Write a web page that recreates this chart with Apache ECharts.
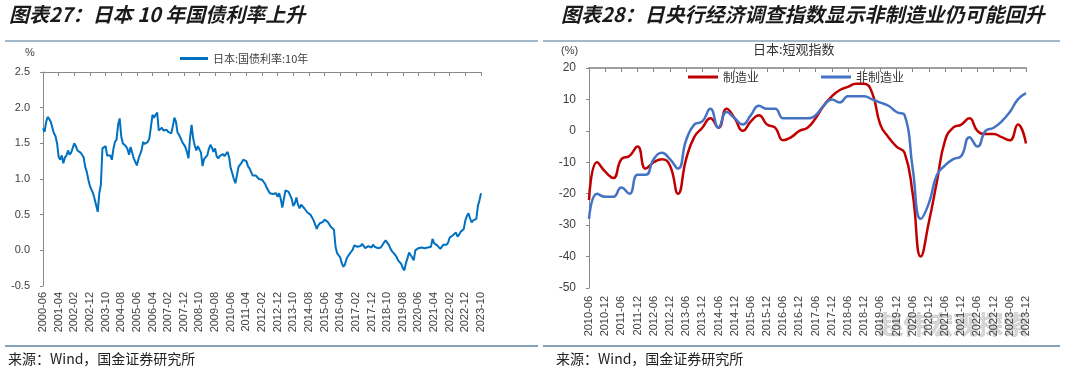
<!DOCTYPE html>
<html><head><meta charset="utf-8">
<script src="https://cdn.jsdelivr.net/npm/echarts@6/dist/echarts.min.js"></script>
<style>html,body{margin:0;padding:0;background:#fff}#c{width:1080px;height:375px}</style>
</head><body><div id="c"></div>
<script>
// ---- Left chart: Japan 10Y JGB yield, monthly 2000-06 .. 2023-10 ----
const jgb2000 = [1.71,1.66,1.80,1.87,1.84,1.80,1.72];
const jgb2001 = [1.64,1.60,1.50,1.31,1.27,1.33,1.22,1.30,1.33,1.40,1.34,1.37];
const jgb2002 = [1.38,1.50,1.46,1.40,1.38,1.37,1.34,1.30,1.17,1.10,0.99,0.90];
const jgb2003 = [0.85,0.80,0.72,0.63,0.54,0.80,0.92,1.43,1.42,1.46,1.33,1.35];
const jgb2004 = [1.33,1.27,1.42,1.52,1.55,1.76,1.85,1.60,1.50,1.48,1.46,1.42];
const jgb2005 = [1.34,1.45,1.44,1.29,1.27,1.19,1.28,1.30,1.40,1.52,1.49,1.48];
const jgb2006 = [1.52,1.57,1.73,1.90,1.86,1.90,1.93,1.68,1.68,1.72,1.68,1.67];
const jgb2007 = [1.69,1.66,1.65,1.64,1.74,1.86,1.80,1.65,1.62,1.64,1.52,1.50];
const jgb2008 = [1.45,1.38,1.29,1.58,1.76,1.57,1.47,1.40,1.46,1.45,1.37,1.18];
const jgb2009 = [1.28,1.30,1.33,1.42,1.48,1.44,1.38,1.43,1.32,1.29,1.32,1.30];
const jgb2010 = [1.35,1.32,1.33,1.38,1.30,1.15,1.08,1.00,0.94,0.94,1.17,1.15];
const jgb2011 = [1.23,1.27,1.27,1.25,1.18,1.15,1.10,1.05,1.03,1.05,1.03,1.00];
const jgb2012 = [0.98,0.99,0.99,0.93,0.88,0.84,0.80,0.80,0.79,0.78,0.80,0.75];
const jgb2013 = [0.80,0.72,0.60,0.59,0.84,0.86,0.82,0.77,0.72,0.62,0.66,0.74];
const jgb2014 = [0.64,0.59,0.64,0.62,0.59,0.57,0.53,0.52,0.50,0.46,0.42,0.36];
const jgb2015 = [0.30,0.35,0.38,0.38,0.40,0.43,0.45,0.40,0.38,0.33,0.31,0.29];
const jgb2016 = [0.05,-0.04,-0.06,-0.10,-0.18,-0.23,-0.20,-0.12,-0.08,-0.06,-0.02,0.01];
const jgb2017 = [0.07,0.08,0.05,0.04,0.06,0.09,0.07,0.03,0.04,0.06,0.05,0.04];
const jgb2018 = [0.08,0.05,0.04,0.03,0.04,0.04,0.05,0.11,0.14,0.13,0.08,0.03];
const jgb2019 = [-0.01,-0.03,-0.06,-0.09,-0.14,-0.16,-0.19,-0.25,-0.28,-0.18,-0.11,-0.03];
const jgb2020 = [-0.02,-0.10,-0.14,0.00,0.02,0.03,0.02,0.04,0.03,0.03,0.05,0.04];
const jgb2021 = [0.04,0.05,0.16,0.10,0.09,0.07,0.05,0.02,0.03,0.08,0.09,0.08];
const jgb2022 = [0.11,0.18,0.20,0.21,0.23,0.25,0.19,0.22,0.26,0.25,0.30,0.42];
const jgb2023 = [0.48,0.52,0.45,0.39,0.42,0.43,0.44,0.62,0.70,0.80];
const jgbYield = [].concat(jgb2000,jgb2001,jgb2002,jgb2003,jgb2004,jgb2005,jgb2006,jgb2007,jgb2008,jgb2009,jgb2010,jgb2011,jgb2012,jgb2013,jgb2014,jgb2015,jgb2016,jgb2017,jgb2018,jgb2019,jgb2020,jgb2021,jgb2022,jgb2023);
const monthCats = [];
for (let y = 2000, m = 6; monthCats.length < jgbYield.length; ) {
  monthCats.push(y + '-' + String(m).padStart(2,'0'));
  m++; if (m > 12) { m = 1; y++; }
}

// ---- Right chart: Tankan DI, quarterly 2010-06 .. 2023-12 ----
const quarterCats = [];
for (let y = 2010, m = 6; quarterCats.length < 55; ) {
  quarterCats.push(y + '-' + String(m).padStart(2,'0'));
  m += 3; if (m > 12) { m -= 12; y++; }
}
const manufacturing = [-22,-10,-13,-15,-9,-8,-5,-12,-10,-9,-11,-20,-9,-2,1,4,1,7,4,0,3,5,2,1,-3,-2,0,1,4,8,11,13,14,15,15,12,2,-2,-5,-7,-20,-40,-29,-16,-3,1,2,4,0,-1,-1,-2,-3,2,-4];
const nonManufacturing = [-28,-20,-21,-21,-18,-20,-14,-14,-9,-7,-9,-12,-3,2,3,7,1,6,4,2,5,8,7,7,4,4,4,4,5,8,10,9,11,11,11,10,9,8,6,5,-12,-28,-23,-14,-11,-9,-8,-2,-5,0,1,3,6,10,12];

const AX = '"Liberation Sans", Arial, sans-serif';
const CJK = '"Noto Sans CJK SC", sans-serif';
const lab = {fontFamily: AX, fontSize: 11, color: '#404040'};

const chart = echarts.init(document.getElementById('c'), null, {renderer: 'canvas'});
chart.setOption({
  animation: false,
  backgroundColor: '#fff',
  graphic: [
    {type:'text', left: 9, top: 4, style:{text:'图表27：日本 10 年国债利率上升', font:'italic bold 20px "Noto Sans CJK SC"', fill:'#1a1a1a'}},
    {type:'text', left: 561, top: 4, style:{text:'图表28：日央行经济调查指数显示非制造业仍可能回升', font:'italic bold 20px "Noto Sans CJK SC"', fill:'#1a1a1a'}},
    {type:'line', shape:{x1:5,y1:41,x2:538,y2:41}, style:{stroke:'#a3b8ca', lineWidth:2}},
    {type:'line', shape:{x1:543,y1:41,x2:1060,y2:41}, style:{stroke:'#a3b8ca', lineWidth:2}},
    {type:'line', shape:{x1:5,y1:346,x2:538,y2:346}, style:{stroke:'#5f84a2', lineWidth:1.5}},
    {type:'line', shape:{x1:543,y1:346,x2:1060,y2:346}, style:{stroke:'#5f84a2', lineWidth:1.5}},
    {type:'text', left: 8, top: 352, style:{text:'来源：Wind，国金证券研究所', font:'14px "Noto Sans CJK SC"', fill:'#222'}},
    {type:'text', left: 556, top: 352, style:{text:'来源：Wind，国金证券研究所', font:'14px "Noto Sans CJK SC"', fill:'#222'}},
    {type:'text', left: 25, top: 47, style:{text:'%', font:'11px "Liberation Sans"', fill:'#404040'}},
    {type:'text', left: 561, top: 45, style:{text:'(%)', font:'11px "Liberation Sans"', fill:'#404040'}},
    {type:'text', left: 753, top: 43, style:{text:'日本:短观指数', font:'13px "Noto Sans CJK SC"', fill:'#333'}},
    {type:'text', left: 878, top: 312, style:{text:'赵伟宏观探索', font:'bold 25px "Noto Sans CJK SC"', fill:'rgba(150,150,150,0.38)', stroke:'rgba(120,120,120,0.3)', lineWidth:0.5}}
  ],
  legend: [
    {data:['日本:国债利率:10年'], left: 175, top: 48, itemWidth: 28, itemHeight: 3, itemGap: 4,
     textStyle:{fontFamily: CJK, fontSize: 11, color:'#404040'}, icon: 'rect'},
    {data:['制造业','非制造业'], left: 683, top: 66, itemWidth: 30, itemHeight: 3, itemGap: 62,
     textStyle:{fontFamily: CJK, fontSize: 12, color:'#333'}, icon: 'rect'}
  ],
  grid: [
    {left: 43, top: 72, width: 438, height: 214},
    {left: 589, top: 68, width: 437, height: 220}
  ],
  xAxis: [
    {gridIndex:0, type:'category', data: monthCats, boundaryGap:false, position:'bottom',
     axisLine:{show:false}, axisTick:{show:false},
     axisLabel: Object.assign({rotate:90, interval:9, margin:6}, lab)},
    {gridIndex:0, type:'category', data: monthCats, boundaryGap:false,
     axisLine:{onZero:true, lineStyle:{color:'#888', width:1}},
     axisTick:{inside:true, interval:9, length:4, lineStyle:{color:'#888'}},
     axisLabel:{show:false}},
    {gridIndex:1, type:'category', data: quarterCats, boundaryGap:false, position:'bottom',
     axisLine:{show:false}, axisTick:{show:false},
     axisLabel: Object.assign({rotate:90, interval:1, margin:8}, lab)},
    {gridIndex:1, type:'category', data: quarterCats, boundaryGap:false,
     axisLine:{onZero:true, lineStyle:{color:'#a0a0a0', width:2}},
     axisTick:{inside:true, interval:1, length:4, lineStyle:{color:'#888'}},
     axisLabel:{show:false}}
  ],
  yAxis: [
    {gridIndex:0, type:'value', min:-0.5, max:2.5, interval:0.5, splitLine:{show:false},
     axisLine:{show:true, lineStyle:{color:'#888'}}, axisTick:{show:true, length:3, lineStyle:{color:'#888'}},
     axisLabel: Object.assign({margin:13, formatter: v => v.toFixed(1)}, lab)},
    {gridIndex:1, type:'value', min:-50, max:20, interval:10, splitLine:{show:false},
     axisLine:{show:true, lineStyle:{color:'#888'}}, axisTick:{show:true, length:3, lineStyle:{color:'#888'}},
     axisLabel: Object.assign({margin:13}, lab, {fontSize:12})}
  ],
  series: [
    {name:'日本:国债利率:10年', type:'line', xAxisIndex:1, yAxisIndex:0, data: jgbYield,
     showSymbol:false, lineStyle:{color:'#0070c0', width:2}, itemStyle:{color:'#0070c0'}},
    {name:'制造业', type:'line', xAxisIndex:3, yAxisIndex:1, data: manufacturing, smooth:true,
     showSymbol:false, lineStyle:{color:'#c00000', width:2.5}, itemStyle:{color:'#c00000'}},
    {name:'非制造业', type:'line', xAxisIndex:3, yAxisIndex:1, data: nonManufacturing, smooth:true,
     showSymbol:false, lineStyle:{color:'#4472c4', width:2.5}, itemStyle:{color:'#4472c4'}}
  ]
});
</script></body></html>
